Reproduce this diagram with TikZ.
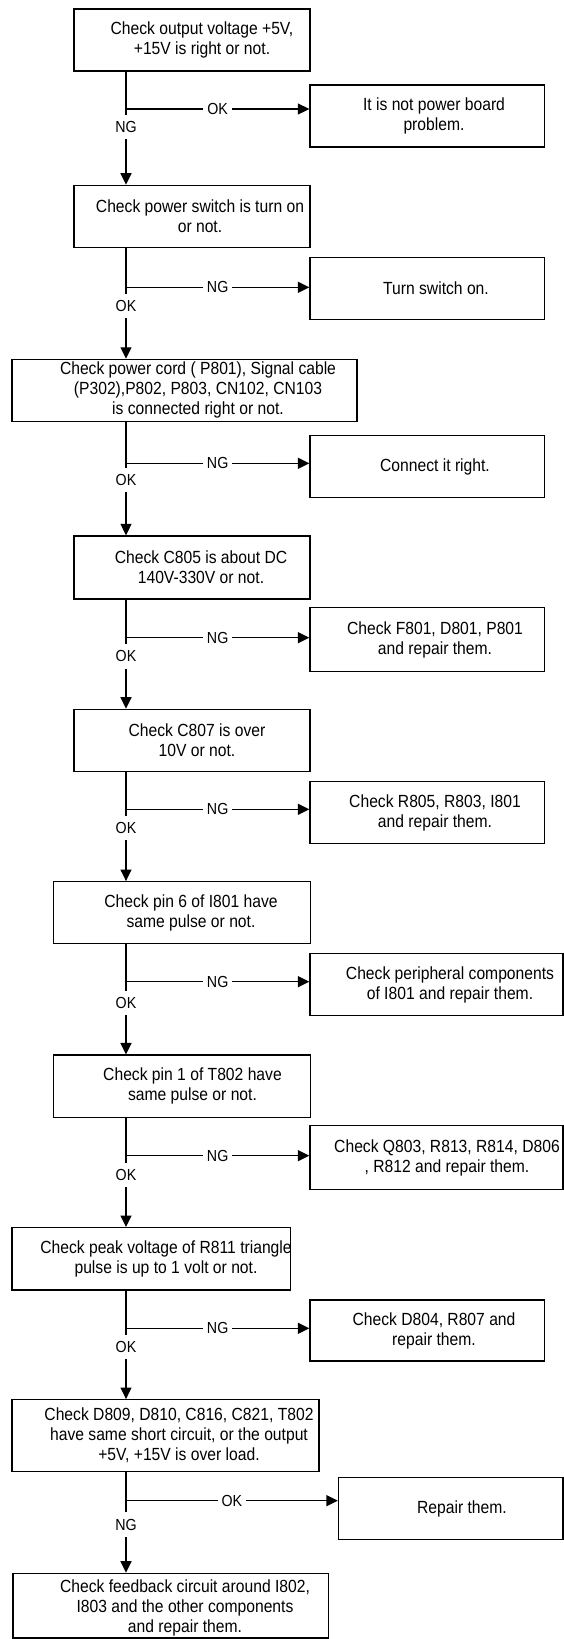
\documentclass[tikz,border=0pt]{standalone}
\usepackage{fontspec}
\setmainfont{Liberation Sans}[FakeStretch=0.89]
\usetikzlibrary{arrows.meta}
\begin{document}
\begin{tikzpicture}[x=1pt,y=-1pt,
  box/.style={draw, line width=1.3pt, inner sep=0pt},
  txt/.style={align=center, font=\fontsize{17.6}{20}\selectfont, inner sep=0pt},
  lab/.style={fill=white, font=\fontsize{16}{18}\selectfont, inner xsep=4pt, inner ysep=6.5pt},
  wire/.style={line width=1.3pt},
  flow/.style={wire, -{Triangle[length=11.5pt,width=11pt]}},
]
\useasboundingbox (0,0) rectangle (564,1639);

% check boxes (left column) and action boxes (right column)
\node[box, minimum width=236pt,   minimum height=62pt]   (b1)  at (192,40)       {};
\node[box, minimum width=234.5pt, minimum height=62pt]   (r1)  at (427.25,116)   {};
\node[box, minimum width=236pt,   minimum height=62.4pt] (b2)  at (192,216.5)    {};
\node[box, minimum width=234.5pt, minimum height=62pt]   (r2)  at (427.25,288.3) {};
\node[box, minimum width=345pt,   minimum height=62pt]   (b3)  at (184.5,390.4)  {};
\node[box, minimum width=234.5pt, minimum height=62.4pt] (r3)  at (427.25,466.5) {};
\node[box, minimum width=236pt,   minimum height=63pt]   (b4)  at (192,567.5)    {};
\node[box, minimum width=234.5pt, minimum height=64pt]   (r4)  at (427.25,639.5) {};
\node[box, minimum width=236pt,   minimum height=62.4pt] (b5)  at (192,740.5)    {};
\node[box, minimum width=234.5pt, minimum height=62.4pt] (r5)  at (427.25,812.5) {};
\node[box, minimum width=256.8pt, minimum height=62pt]   (b6)  at (182,912.7)    {};
\node[box, minimum width=253pt,   minimum height=62.4pt] (r6)  at (436.5,984.5)  {};
\node[box, minimum width=256.8pt, minimum height=62.3pt] (b7)  at (182,1086.2)   {};
\node[box, minimum width=253pt,   minimum height=63.6pt] (r7)  at (436.5,1157.5) {};
\node[box, minimum width=278.7pt, minimum height=62.3pt] (b8)  at (151.25,1258.8){};
\node[box, minimum width=234.5pt, minimum height=61pt]   (r8)  at (427.25,1330.5){};
\node[box, minimum width=307pt,   minimum height=72pt]   (b9)  at (165.5,1435.7) {};
\node[box, minimum width=224.5pt, minimum height=62pt]   (r9)  at (450.75,1508.7){};
\node[box, minimum width=315.5pt, minimum height=64.7pt] (b10) at (170.6,1605.7) {};

% branch points on the main line
\coordinate (j1) at (126,109);
\coordinate (j2) at (126,287.3);
\coordinate (j3) at (126,463.3);
\coordinate (j4) at (126,637.7);
\coordinate (j5) at (126,809.3);
\coordinate (j6) at (126,981.7);
\coordinate (j7) at (126,1155.7);
\coordinate (j8) at (126,1328.3);
\coordinate (j9) at (126,1500.7);

% main line
\draw[flow] (b1.south -| j1) -- node[lab, pos=0.49]  {NG} (b2.north -| j1);
\draw[flow] (b2.south -| j2) -- node[lab, pos=0.52]  {OK} (b3.north -| j2);
\draw[flow] (b3.south -| j3) -- node[lab, pos=0.51]  {OK} (b4.north -| j3);
\draw[flow] (b4.south -| j4) -- node[lab, pos=0.52]  {OK} (b5.north -| j4);
\draw[flow] (b5.south -| j5) -- node[lab, pos=0.51]  {OK} (b6.north -| j5);
\draw[flow] (b6.south -| j6) -- node[lab, pos=0.53]  {OK} (b7.north -| j6);
\draw[flow] (b7.south -| j7) -- node[lab, pos=0.52]  {OK} (b8.north -| j7);
\draw[flow] (b8.south -| j8) -- node[lab, pos=0.52]  {OK} (b9.north -| j8);
\draw[flow] (b9.south -| j9) -- node[lab, pos=0.52]  {NG} (b10.north -| j9);

% side branches
\draw[flow] (j1) -- node[lab] {OK} (j1 -| r1.west);
\draw[flow] (j2) -- node[lab] {NG} (j2 -| r2.west);
\draw[flow] (j3) -- node[lab] {NG} (j3 -| r3.west);
\draw[flow] (j4) -- node[lab] {NG} (j4 -| r4.west);
\draw[flow] (j5) -- node[lab] {NG} (j5 -| r5.west);
\draw[flow] (j6) -- node[lab] {NG} (j6 -| r6.west);
\draw[flow] (j7) -- node[lab] {NG} (j7 -| r7.west);
\draw[flow] (j8) -- node[lab] {NG} (j8 -| r8.west);
\draw[flow] (j9) -- node[lab] {OK} (j9 -| r9.west);

% box texts
\node[txt] (t1)  at (202,40)      {Check output voltage +5V,\\+15V is right or not.};
\node[txt] (s1)  at (434,116)     {It is not power board\\problem.};
\node[txt] (t2)  at (200,216.5)   {Check power switch is turn on\\or not.};
\node[txt] (s2)  at (436,288.3)   {Turn switch on.};
\node[txt] (t3)  at (198,390.4)   {Check power cord ( P801), Signal cable\\(P302),P802, P803, CN102, CN103\\is connected right or not.};
\node[txt] (s3)  at (435,466.5)   {Connect it right.};
\node[txt] (t4)  at (201,567.5)   {Check C805 is about DC\\140V-330V or not.};
\node[txt] (s4)  at (435,639.5)   {Check F801, D801, P801\\and repair them.};
\node[txt] (t5)  at (197,740.5)   {Check C807 is over\\10V or not.};
\node[txt] (s5)  at (435,812.5)   {Check R805, R803, I801\\and repair them.};
\node[txt] (t6)  at (191,912.7)   {Check pin 6 of I801 have\\same pulse or not.};
\node[txt] (s6)  at (450,984.5)   {Check peripheral components\\of I801 and repair them.};
\node[txt] (t7)  at (192.5,1086.2){Check pin 1 of T802 have\\same pulse or not.};
\node[txt] (s7)  at (447,1157.5)  {Check Q803, R813, R814, D806\\, R812 and repair them.};
\node[txt] (t8)  at (166,1258.8)  {Check peak voltage of R811 triangle\\pulse is up to 1 volt or not.};
\node[txt] (s8)  at (434,1330.5)  {Check D804, R807 and\\repair them.};
\node[txt] (t9)  at (179,1435.7)  {Check D809, D810, C816, C821, T802\\have same short circuit, or the output\\+5V, +15V is over load.};
\node[txt] (s9)  at (462,1508.7)  {Repair them.};
\node[txt] (t10) at (185,1608)    {Check feedback circuit around I802,\\I803 and the other components\\and repair them.};
\end{tikzpicture}
\end{document}
